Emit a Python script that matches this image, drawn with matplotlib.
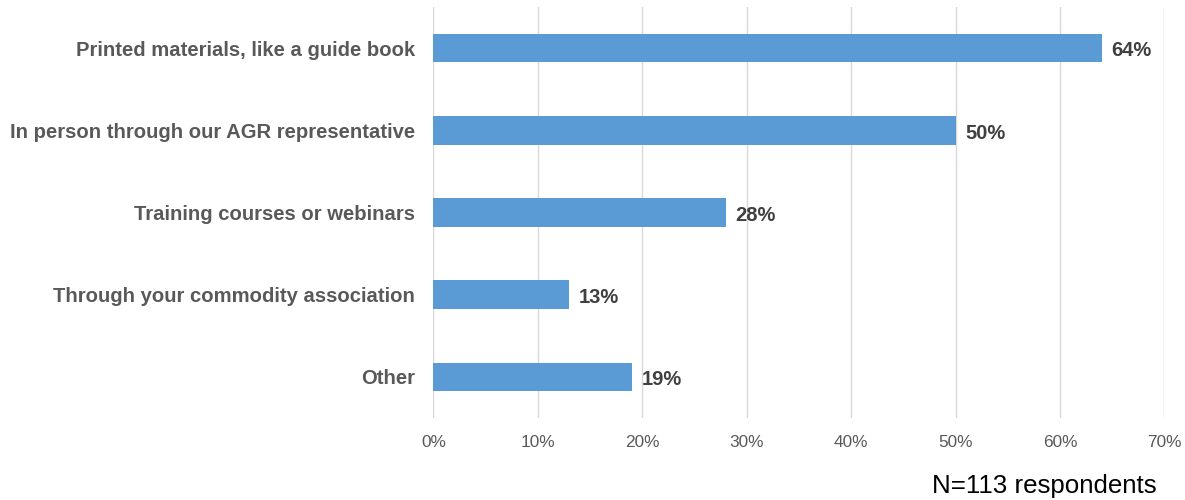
import matplotlib
matplotlib.use('Agg')
import matplotlib.pyplot as plt
from matplotlib.ticker import PercentFormatter

plt.rcParams['font.family'] = ['Liberation Sans', 'DejaVu Sans']

categories = [
    "Printed materials, like a guide book",
    "In person through our AGR representative",
    "Training courses or webinars",
    "Through your commodity association",
    "Other",
]
shares = [64, 50, 28, 13, 19]
x_ticks = [0, 10, 20, 30, 40, 50, 60, 70]
note = "N=113 respondents"

fig = plt.figure(figsize=(11.85, 5), dpi=100)
ax = fig.add_axes([0.3657, 0.164, 0.617, 0.822])

pos = list(range(len(categories)))
ax.barh(pos, shares, height=0.35, color='#5B9BD5', zorder=3)
for y, v in zip(pos, shares):
    ax.annotate(f"{v}%", (v, y), xytext=(7, -2), textcoords='offset points',
                va='center', ha='left', fontsize=14.5, fontweight='bold',
                color='#404040')

ax.set_ylim(len(categories) - 0.5, -0.5)
ax.set_xlim(0, 70)
ax.set_yticks(pos)
ax.set_yticklabels(categories, fontsize=14.6, fontweight='bold', color='#595959')
ax.set_xticks(x_ticks)
ax.xaxis.set_major_formatter(PercentFormatter(decimals=0))
ax.tick_params(axis='x', colors='#595959', labelsize=12.4, length=0, pad=12.5)
ax.tick_params(axis='y', length=0, pad=13)
ax.grid(axis='x', color='#D9D9D9', linewidth=1, zorder=0)
for s in ax.spines.values():
    s.set_visible(False)

fig.text(0.976, 0.027, note, ha='right', va='center', fontsize=18.6, color='black')

fig.savefig('out.png', dpi=100)
